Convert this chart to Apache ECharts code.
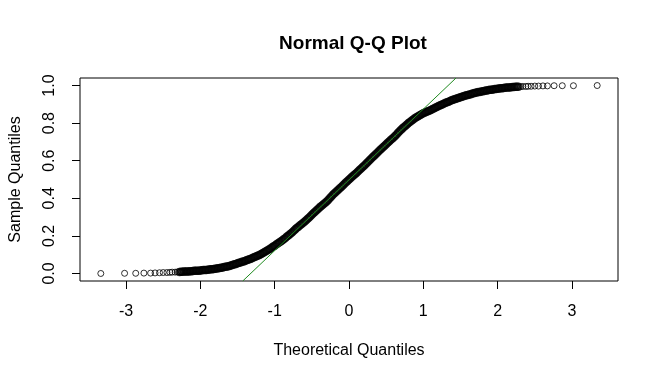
<!DOCTYPE html>
<html>
<head>
<meta charset="utf-8">
<script src="https://cdn.jsdelivr.net/npm/echarts@6/dist/echarts.min.js"></script>
<style>
html,body{margin:0;padding:0;background:#fff;}
#chart{width:660px;height:379px;}
</style>
</head>
<body>
<div id="chart"></div>
<script>
// Theoretical quantiles (x)
const theoretical = [
-3.34,-3.02,-2.87,-2.76,-2.67,-2.61,-2.55,-2.50,-2.45,-2.41,-2.38,-2.34,-2.31,
-2.28,-2.26,-2.24,-2.22,-2.20,-2.18,-2.16,-2.14,-2.12,-2.10,
-2.08,-2.06,-2.04,-2.02,-2.00,-1.98,-1.96,-1.94,-1.92,-1.90,
-1.88,-1.86,-1.84,-1.82,-1.80,-1.78,-1.76,-1.74,-1.72,-1.70,
-1.68,-1.66,-1.64,-1.62,-1.60,-1.58,-1.56,-1.54,-1.52,-1.50,
-1.48,-1.46,-1.44,-1.42,-1.40,-1.38,-1.36,-1.34,-1.32,-1.30,
-1.28,-1.26,-1.24,-1.22,-1.20,-1.18,-1.16,-1.14,-1.12,-1.10,
-1.08,-1.06,-1.04,-1.02,-1.00,-0.98,-0.96,-0.94,-0.92,-0.90,
-0.88,-0.86,-0.84,-0.82,-0.80,-0.78,-0.76,-0.74,-0.72,-0.70,
-0.68,-0.66,-0.64,-0.62,-0.60,-0.58,-0.56,-0.54,-0.52,-0.50,
-0.48,-0.46,-0.44,-0.42,-0.40,-0.38,-0.36,-0.34,-0.32,-0.30,
-0.28,-0.26,-0.24,-0.22,-0.20,-0.18,-0.16,-0.14,-0.12,-0.10,
-0.08,-0.06,-0.04,-0.02,0.00,0.02,0.04,0.06,0.08,0.10,
0.12,0.14,0.16,0.18,0.20,0.22,0.24,0.26,0.28,0.30,
0.32,0.34,0.36,0.38,0.40,0.42,0.44,0.46,0.48,0.50,
0.52,0.54,0.56,0.58,0.60,0.62,0.64,0.66,0.68,0.70,
0.72,0.74,0.76,0.78,0.80,0.82,0.84,0.86,0.88,0.90,
0.92,0.94,0.96,0.98,1.00,1.02,1.04,1.06,1.08,1.10,
1.12,1.14,1.16,1.18,1.20,1.22,1.24,1.26,1.28,1.30,
1.32,1.34,1.36,1.38,1.40,1.42,1.44,1.46,1.48,1.50,
1.52,1.54,1.56,1.58,1.60,1.62,1.64,1.66,1.68,1.70,
1.72,1.74,1.76,1.78,1.80,1.82,1.84,1.86,1.88,1.90,
1.92,1.94,1.96,1.98,2.00,2.02,2.04,2.06,2.08,2.10,
2.12,2.14,2.16,2.18,2.20,2.22,2.24,2.26,2.28,
2.31,2.34,2.38,2.41,2.45,2.50,2.55,2.61,2.67,2.76,2.87,3.02,3.34
];
// Sample quantiles (y)
const sample = [
0.000,0.001,0.001,0.002,0.002,0.003,0.004,0.005,0.005,0.006,0.007,0.007,0.008,
0.008,0.009,0.009,0.010,0.010,0.011,0.011,0.012,0.012,0.013,
0.014,0.014,0.015,0.015,0.016,0.017,0.018,0.018,0.019,0.020,
0.021,0.022,0.023,0.024,0.025,0.026,0.028,0.029,0.031,0.032,
0.034,0.036,0.037,0.039,0.041,0.044,0.046,0.049,0.051,0.054,
0.057,0.059,0.062,0.064,0.067,0.070,0.073,0.076,0.079,0.082,
0.086,0.089,0.093,0.096,0.100,0.104,0.109,0.113,0.118,0.122,
0.127,0.132,0.138,0.143,0.148,0.154,0.159,0.165,0.170,0.176,
0.182,0.188,0.195,0.201,0.207,0.214,0.221,0.229,0.236,0.243,
0.249,0.256,0.262,0.269,0.275,0.282,0.290,0.297,0.305,0.312,
0.320,0.327,0.335,0.342,0.350,0.357,0.363,0.370,0.376,0.383,
0.391,0.400,0.408,0.417,0.425,0.432,0.440,0.447,0.455,0.462,
0.470,0.477,0.485,0.492,0.500,0.507,0.514,0.521,0.528,0.535,
0.542,0.550,0.557,0.565,0.572,0.580,0.588,0.596,0.604,0.612,
0.620,0.627,0.635,0.642,0.650,0.658,0.665,0.673,0.680,0.688,
0.695,0.702,0.710,0.717,0.724,0.732,0.740,0.749,0.757,0.765,
0.772,0.779,0.786,0.793,0.800,0.806,0.812,0.818,0.824,0.830,
0.834,0.839,0.843,0.848,0.852,0.856,0.859,0.863,0.866,0.870,
0.874,0.878,0.882,0.886,0.890,0.894,0.897,0.901,0.904,0.908,
0.911,0.914,0.918,0.921,0.924,0.927,0.930,0.932,0.935,0.938,
0.940,0.943,0.945,0.948,0.950,0.952,0.954,0.957,0.959,0.961,
0.963,0.965,0.966,0.968,0.970,0.971,0.973,0.974,0.976,0.977,
0.978,0.979,0.981,0.982,0.983,0.984,0.985,0.986,0.987,0.988,
0.989,0.990,0.990,0.991,0.992,0.992,0.993,0.993,0.994,
0.994,0.995,0.995,0.996,0.996,0.997,0.997,0.998,0.998,0.999,0.999,0.999,1.000
];
// Reference (qqline) end points where it meets the plot box
const lineX = [-1.43, 1.44];
const lineY = [-0.04, 1.04];
// Tick labels
const xTicks = [-3, -2, -1, 0, 1, 2, 3];
const yTicks = [0, 0.2, 0.4, 0.6, 0.8, 1.0];

const points = theoretical.map((x, i) => [x, sample[i]]);
// sparse tail points drawn as thin rings, dense core drawn where rings merge into a solid band
const tailCount = 13;
const tailPts = points.slice(0, tailCount).concat(points.slice(points.length - tailCount));
const corePts = points.slice(tailCount, points.length - tailCount);
const linePts = lineX.map((x, i) => [x, lineY[i]]);
const FONT = 'Liberation Sans, Arial, sans-serif';

const chart = echarts.init(document.getElementById('chart'), null, {renderer: 'canvas'});
chart.setOption({
  animation: false,
  backgroundColor: '#fff',
  title: {
    text: 'Normal Q-Q Plot',
    left: 348, top: 29, textAlign: 'center',
    textStyle: {fontFamily: FONT, fontSize: 19, fontWeight: 'bold', color: '#000'}
  },
  grid: {left: 78, right: 42, top: 78, bottom: 98, show: true, borderColor: '#000', borderWidth: 1, backgroundColor: 'transparent'},
  xAxis: {
    type: 'value', min: -3.62, max: 3.62,
    axisLine: {show: false, onZero: false},
    axisTick: {show: true, customValues: xTicks, length: 8, lineStyle: {color: '#000', width: 1}},
    axisLabel: {customValues: xTicks, margin: 23, fontSize: 16, color: '#000', fontFamily: FONT},
    splitLine: {show: false},
    name: 'Theoretical Quantiles', nameLocation: 'middle', nameGap: 62,
    nameTextStyle: {fontSize: 16, color: '#000', fontFamily: FONT}
  },
  yAxis: {
    type: 'value', min: -0.04, max: 1.04,
    axisLine: {show: false, onZero: false},
    axisTick: {show: true, customValues: yTicks, length: 8, lineStyle: {color: '#000', width: 1}},
    axisLabel: {customValues: yTicks, margin: 22, rotate: 90, fontSize: 16, color: '#000', fontFamily: FONT,
      formatter: v => v.toFixed(1)},
    splitLine: {show: false},
    name: 'Sample Quantiles', nameLocation: 'middle', nameGap: 56,
    nameTextStyle: {fontSize: 16, color: '#000', fontFamily: FONT}
  },
  series: [
    {
      type: 'scatter', data: tailPts, symbol: 'circle', symbolSize: 6,
      itemStyle: {color: 'rgba(0,0,0,0)', borderColor: '#000', borderWidth: 1},
      emphasis: {disabled: true}, z: 2
    },
    {
      type: 'scatter', data: corePts, symbol: 'circle', symbolSize: 6.5,
      itemStyle: {color: 'rgba(0,0,0,0)', borderColor: '#000', borderWidth: 2},
      emphasis: {disabled: true}, z: 2
    },
    {
      type: 'line', data: linePts, symbol: 'none',
      lineStyle: {color: '#1f8a1f', width: 1}, z: 3, clip: true
    }
  ]
});
</script>
</body>
</html>
